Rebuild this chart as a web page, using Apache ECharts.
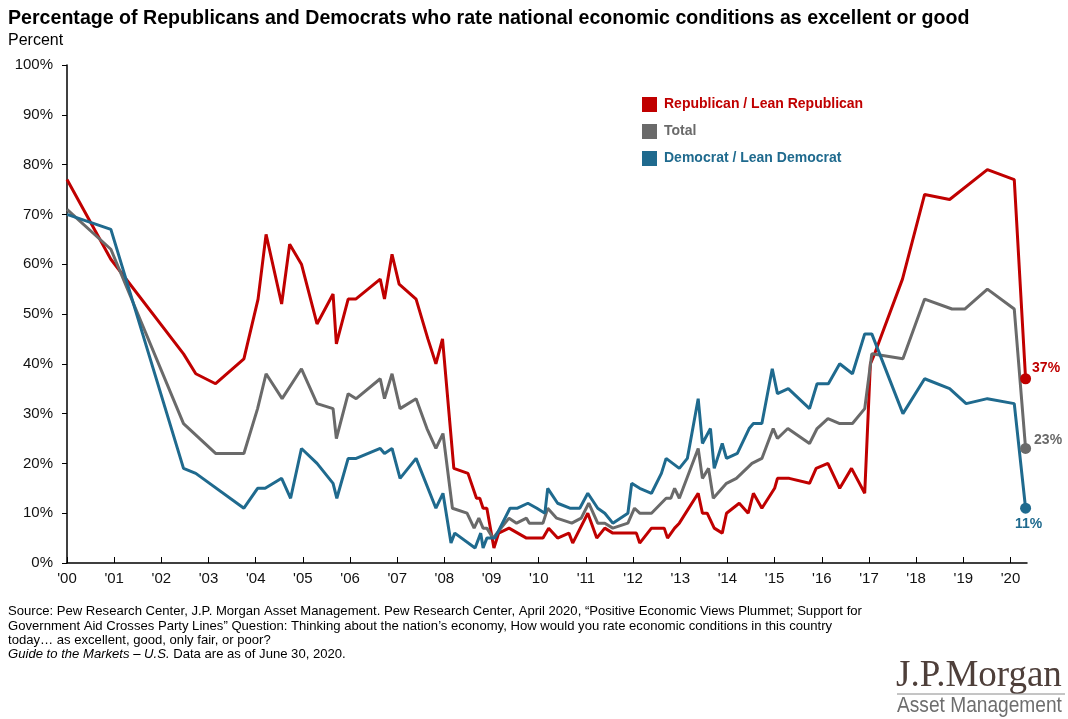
<!DOCTYPE html>
<html>
<head>
<meta charset="utf-8">
<script src="https://cdn.jsdelivr.net/npm/echarts@6/dist/echarts.min.js"></script>
<style>html,body{margin:0;padding:0;background:#fff}#c{width:1068px;height:719px}</style>
</head>
<body>
<div id="c"></div>
<script>
// x = years since Jan 2000, y = percent
const republican = [[0,77],[0.93,61],[2.47,42],[2.73,38],[3.15,36],[3.75,41],[4.05,53],[4.22,66],[4.55,52],[4.72,64],[4.97,60],[5.30,48],[5.64,54],[5.71,44],[5.96,53],[6.12,53],[6.64,57],[6.73,53],[6.89,62],[7.04,56],[7.40,53],[7.65,45],[7.82,40],[7.96,45],[8.2,19],[8.5,18],[8.68,13],[8.75,13],[8.82,11],[8.9,11],[9.05,3],[9.15,6],[9.37,7],[9.74,5],[10.09,5],[10.21,7],[10.4,5],[10.64,6],[10.72,4],[11.04,10],[11.23,5],[11.40,7],[11.57,6],[12.07,6],[12.14,4],[12.39,7],[12.66,7],[12.73,5],[12.88,7],[12.98,8],[13.38,14],[13.47,10],[13.57,10],[13.72,7],[13.89,6],[13.98,10],[14.25,12],[14.44,10],[14.55,14],[14.73,11],[15.0,15],[15.06,17],[15.31,17],[15.74,16],[15.88,19],[16.13,20],[16.38,15],[16.63,19],[16.91,14],[17.03,40],[17.12,42],[17.71,57],[18.18,74],[18.71,73],[19.51,79],[20.08,77],[20.32,37]];
const total = [[0,71],[0.93,63],[2.47,28],[3.15,22],[3.75,22],[4.04,31],[4.22,38],[4.56,33],[4.97,39],[5.30,32],[5.64,31],[5.71,25],[5.96,34],[6.13,33],[6.64,37],[6.73,33],[6.89,38],[7.06,31],[7.40,33],[7.63,27],[7.82,23],[7.97,26],[8.17,11],[8.48,10],[8.63,7],[8.73,9],[8.82,7],[8.9,7],[9.03,5],[9.37,9],[9.53,8],[9.74,9],[9.8,8],[10.09,8],[10.19,11],[10.38,9],[10.7,8],[10.9,9],[11.06,12],[11.25,8],[11.40,8],[11.57,7],[11.89,8],[12.03,11],[12.14,10],[12.39,10],[12.70,13],[12.8,13],[12.88,15],[12.98,13],[13.38,23],[13.47,17],[13.6,19],[13.7,13],[13.98,16],[14.19,17],[14.52,20],[14.73,21],[14.97,27],[15.06,25],[15.28,27],[15.74,24],[15.9,27],[16.13,29],[16.38,28],[16.65,28],[16.91,31],[17.06,42],[17.72,41],[18.18,53],[18.76,51],[19.03,51],[19.51,55],[20.08,51],[20.32,23]];
const democrat = [[0,70],[0.93,67],[2.47,19],[2.73,18],[3.75,11],[4.04,15],[4.2,15],[4.55,17],[4.74,13],[4.97,23],[5.30,20],[5.64,16],[5.72,13],[5.96,21],[6.13,21],[6.64,23],[6.73,22],[6.89,23],[7.06,17],[7.40,21],[7.82,11],[7.97,14],[8.14,4],[8.22,6],[8.65,3],[8.77,6],[8.82,3],[8.9,5],[9.07,5],[9.39,11],[9.55,11],[9.77,12],[9.96,11],[10.13,10],[10.19,15],[10.4,12],[10.66,11],[10.87,11],[11.04,14],[11.25,11],[11.40,10],[11.57,8],[11.89,10],[11.97,16],[12.14,15],[12.39,14],[12.6,18],[12.7,21],[12.98,19],[13.15,21],[13.38,33],[13.47,24],[13.64,27],[13.72,19],[13.89,24],[13.98,21],[14.21,22],[14.46,27],[14.55,28],[14.73,28],[14.95,39],[15.06,34],[15.29,35],[15.74,31],[15.9,36],[16.14,36],[16.38,40],[16.65,38],[16.91,46],[17.06,46],[17.72,30],[18.18,37],[18.71,35],[19.06,32],[19.51,33],[20.08,32],[20.32,11]];
const yearTicks = [0,1,2,3,4,5,6,7,8,9,10,11,12,13,14,15,16,17,18,19,20];
const seriesNames = ['Republican / Lean Republican','Total','Democrat / Lean Democrat'];

const RED = '#C00000', GRAY = '#6A6A6A', BLUE = '#1F6A8E';
const FONT = '"Liberation Sans", Arial, sans-serif';
const chart = echarts.init(document.getElementById('c'), null, {renderer:'canvas'});

function lineSeries(name, data, color) {
  return {name, type:'line', data, showSymbol:false, symbol:'none', lineStyle:{width:3, color}, itemStyle:{color}, z:2, animation:false};
}
function endSeries(name, data, color, pos, offset) {
  return {name, type:'scatter', data:[data[data.length-1]], symbol:'circle', symbolSize:11, itemStyle:{color, opacity:1}, z:3, animation:false,
    label:{show:true, position:pos, offset, formatter: p => p.value[1] + '%', color, fontFamily:FONT, fontWeight:'bold', fontSize:14}};
}

chart.setOption({
  animation:false,
  grid:{left:67, right:41, top:65, bottom:156, containLabel:false},
  legend:{
    orient:'vertical', left:637, top:92, itemWidth:15, itemHeight:15, itemGap:12, icon:'rect',
    data:[{name:seriesNames[0], textStyle:{color:RED}}, {name:seriesNames[1], textStyle:{color:GRAY}}, {name:seriesNames[2], textStyle:{color:BLUE}}],
    textStyle:{fontFamily:FONT, fontWeight:'bold', fontSize:14, padding:[0,0,0,2]},
    selectedMode:false
  },
  xAxis:{
    type:'value', min:0, max:20.35, interval:1,
    axisLine:{show:true, lineStyle:{color:'#000', width:1.5}},
    axisTick:{show:true, inside:true, length:6, lineStyle:{color:'#000'}, customValues:yearTicks},
    axisLabel:{customValues:yearTicks, formatter: v => "'" + String(v).padStart(2,'0'), color:'#111', fontFamily:FONT, fontSize:15, margin:8},
    splitLine:{show:false}
  },
  yAxis:{
    type:'value', min:0, max:100, interval:10,
    axisLine:{show:true, lineStyle:{color:'#000', width:1.5}},
    axisTick:{show:true, inside:false, length:5, lineStyle:{color:'#000'}},
    axisLabel:{formatter:'{value}%', color:'#111', fontFamily:FONT, fontSize:15, margin:14},
    splitLine:{show:false}
  },
  series:[
    lineSeries(seriesNames[0], republican, RED),
    lineSeries(seriesNames[1], total, GRAY),
    lineSeries(seriesNames[2], democrat, BLUE),
    endSeries('endR', republican, RED, 'right', [-4,-11]),
    endSeries('endT', total, GRAY, 'right', [-2,-8]),
    endSeries('endD', democrat, BLUE, 'bottom', [3,-2])
  ],
  graphic:[
    {type:'text', left:8, top:9, style:{text:'Percentage of Republicans and Democrats who rate national economic conditions as excellent or good', fontFamily:FONT, fontWeight:'bold', fontSize:19.6, fill:'#000'}},
    {type:'text', left:8, top:33, style:{text:'Percent', fontFamily:FONT, fontSize:16, fill:'#000'}},
    {type:'text', left:8, top:604.5, style:{text:'Source: Pew Research Center, J.P. Morgan Asset Management. Pew Research Center, April 2020, \u201cPositive Economic Views Plummet; Support for\nGovernment Aid Crosses Party Lines\u201d Question: Thinking about the nation\u2019s economy, How would you rate economic conditions in this country\ntoday\u2026 as excellent, good, only fair, or poor?', fontFamily:FONT, fontSize:13.1, lineHeight:14.5, fill:'#000'}},
    {type:'text', left:8, top:648, style:{text:'{i|Guide to the Markets \u2013 U.S.} Data are as of June 30, 2020.', fontFamily:FONT, fontSize:13.1, fill:'#000', rich:{i:{fontStyle:'italic', fontFamily:FONT, fontSize:13.1}}}},
    {type:'text', x:896, y:658, style:{text:'J.P.Morgan', fontFamily:'"Liberation Serif", "DejaVu Serif", serif', fontSize:37, fill:'#4E3F3A'}},
    {type:'line', shape:{x1:897, y1:694, x2:1065, y2:694}, style:{stroke:'#8a8a8a', lineWidth:1}},
    {type:'text', x:897, y:695, scaleX:0.87, style:{text:'Asset Management', fontFamily:FONT, fontSize:22, fill:'#6E6E6E'}}
  ]
});
</script>
</body>
</html>
